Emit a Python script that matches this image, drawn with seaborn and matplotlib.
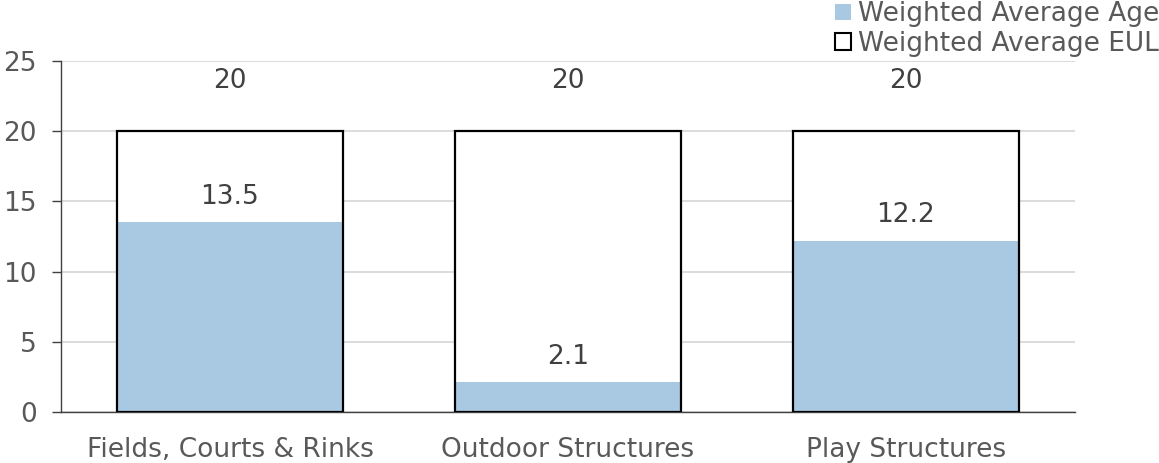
import numpy as np
import pandas as pd
import matplotlib
matplotlib.use('Agg')
import matplotlib.pyplot as plt
import seaborn as sns
from matplotlib.patches import Patch

# 数据
categories = ['Fields, Courts & Rinks', 'Outdoor Structures', 'Play Structures']
avg_eul = [20, 20, 20]
avg_age = [13.5, 2.1, 12.2]

sns.set_theme(style="white")
plt.rcParams['font.family'] = ['DejaVu Sans']

text_color = '#595959'
label_color = '#404040'
age_color = '#A9C8E2'
fs = 19

df = pd.DataFrame({'Category': categories, 'EUL': avg_eul, 'Age': avg_age})

fig = plt.figure(figsize=(11.59, 4.63), dpi=100)
ax = fig.add_axes([0.0526, 0.1102, 0.8749, 0.7581])

# 先画 EUL 白底，再画年龄，最后描 EUL 边框
sns.barplot(data=df, x='Category', y='EUL', color='white', width=0.666,
            edgecolor='none', ax=ax, zorder=2)
sns.barplot(data=df, x='Category', y='Age', color=age_color, width=0.666,
            edgecolor='none', saturation=1, ax=ax, zorder=3)
sns.barplot(data=df, x='Category', y='EUL', fill=False, width=0.666,
            edgecolor='black', linewidth=1.6, ax=ax, zorder=4)

for i, (e, a) in enumerate(zip(avg_eul, avg_age)):
    ax.annotate(f'{e:g}', (i, e), xytext=(0, 36), textcoords='offset points',
                ha='center', va='center', fontsize=fs, color=label_color)
    ax.annotate(f'{a:g}', (i, a), xytext=(0, 18.5), textcoords='offset points',
                ha='center', va='center', fontsize=fs, color=label_color)

ax.set_ylim(0, 25)
ax.set_xlim(-0.5, 2.5)
ax.set_yticks(range(0, 26, 5))
ax.yaxis.grid(True, color='#D9D9D9', linewidth=1.3, zorder=0)
ax.set_axisbelow(True)
ax.set_xlabel('')
ax.set_ylabel('')

for s in ['top', 'right']:
    ax.spines[s].set_visible(False)
for s in ['left', 'bottom']:
    ax.spines[s].set_color('#404040')
    ax.spines[s].set_linewidth(1.0)

ax.set_xticks([0, 1, 2])
ax.set_xticklabels(categories)
ax.tick_params(axis='x', length=0, pad=18, labelsize=fs, labelcolor=text_color)
ax.set_xticks([-0.5, 0.5, 1.5, 2.5], minor=True)
ax.tick_params(axis='x', which='minor', direction='out', length=6.5, color='#404040', width=1)
ax.tick_params(axis='y', direction='out', length=6.5, color='#404040', width=1,
               labelsize=fs, labelcolor=text_color, pad=11, left=True)

handles = [Patch(facecolor=age_color, edgecolor='none', label='Weighted Average Age'),
           Patch(facecolor='white', edgecolor='black', linewidth=1.5, label='Weighted Average EUL')]
leg = fig.legend(handles=handles, loc='upper right', bbox_to_anchor=(1.0, 0.997), frameon=False,
                 fontsize=fs, handlelength=0.6, handleheight=0.6, handletextpad=0.25,
                 labelspacing=0.12, borderaxespad=0, borderpad=0)
for t in leg.get_texts():
    t.set_color(text_color)

plt.savefig('out.png', dpi=100)
plt.close()
